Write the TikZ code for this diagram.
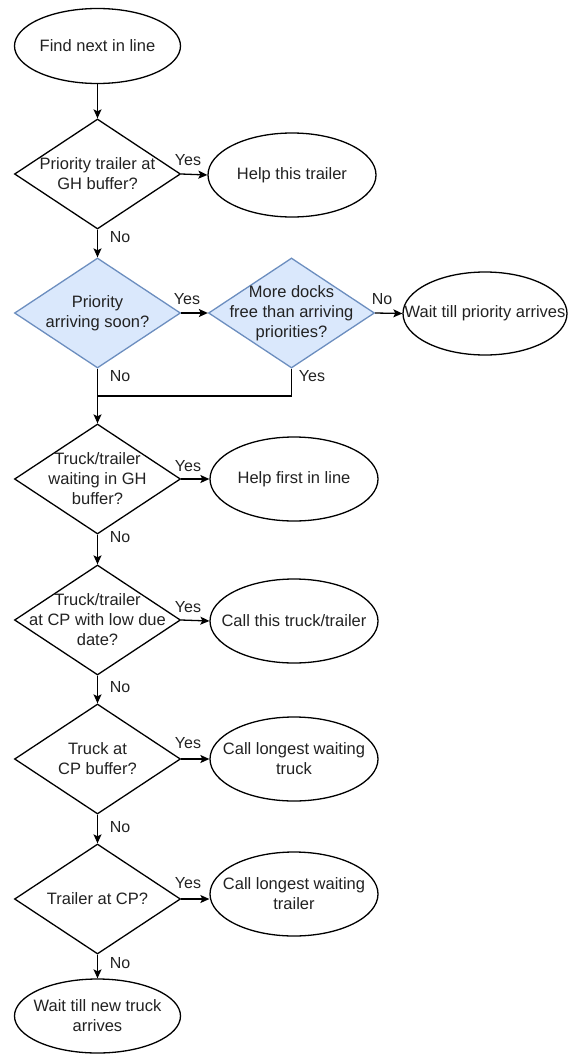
\documentclass[tikz,border=0pt]{standalone}
\usepackage{fontspec}
\setmainfont{Liberation Sans}
\usetikzlibrary{shapes.geometric,arrows.meta}
\definecolor{prioFill}{HTML}{DAE8FC}
\definecolor{prioLine}{HTML}{6C8EBF}
\definecolor{ink}{HTML}{222222}

\begin{document}
\begin{tikzpicture}[x=1pt,y=-1pt,
  txt/.style={font=\fontsize{16.5}{20}\selectfont, text=ink, align=center, inner sep=0pt},
  say/.style={label={[txt]center:#1}},
  decision/.style={diamond, draw, line width=1.3pt, fill=white,
    minimum width=166pt, minimum height=110pt, inner sep=0pt},
  prio/.style={decision, fill=prioFill, draw=prioLine},
  term/.style={ellipse, draw, line width=1.3pt, fill=white,
    minimum width=166pt, minimum height=75pt, inner sep=0pt},
  act/.style={term, minimum width=168pt, minimum height=84pt},
  lbl/.style={font=\fontsize{16}{19}\selectfont, text=ink, inner sep=0pt},
  arr/.style={-{Stealth[length=9pt,width=8pt,inset=2pt]}, line width=1.3pt},
  wire/.style={line width=1.3pt}]

\useasboundingbox (0,0) rectangle (568,1057);

% main column of decisions
\node[term, say={Find next in line}] (start) at (97.5,46) {};
\node[decision, say={Priority trailer at\\GH buffer?}] (d1) at (97.5,174) {};
\node[prio, say={Priority\\arriving soon?}] (d2) at (97.5,313) {};
\node[prio, say={More docks\\free than arriving\\priorities?}] (d3) at (291.5,313) {};
\node[decision, say={Truck/trailer\\waiting in GH\\buffer?}] (d4) at (97.5,479) {};
\node[decision, say={Truck/trailer\\at CP with low due\\date?}] (d5) at (97.5,620) {};
\node[decision, say={Truck at\\CP buffer?}] (d6) at (97.5,759) {};
\node[decision, say={Trailer at CP?}] (d7) at (97.5,899) {};
\node[term, minimum height=74pt, say={Wait till new truck\\arrives}] (stop) at (97.5,1016) {};

% outcomes on the right
\node[act, say={Help this trailer}] (e1) at (292,175) {};
\node[act, minimum width=164pt, minimum height=83pt, say={Wait till priority arrives}] (e3) at (485,313.5) {};
\node[act, say={Help first in line}] (e4) at (294,479) {};
\node[act, say={Call this truck/trailer}] (e5) at (294,621) {};
\node[act, say={Call longest waiting\\truck}] (e6) at (294,759) {};
\node[act, say={Call longest waiting\\trailer}] (e7) at (294,894) {};

\coordinate (merge) at (97.5,396);

% connectors
\draw[arr] (start) -- (d1);
\draw[arr] (d1.east) -- (e1.west);
\draw[arr] (d1.south) -- (d2.north);
\draw[arr] (d2.east) -- (d3.west);
\draw[arr] (d3.east) -- (e3.west);
\draw[wire] (d2.south) -- (merge);
\draw[wire] (d3.south) |- (merge);
\draw[arr] (merge) -- (d4.north);
\draw[arr] (d4.east) -- (e4.west);
\draw[arr] (d4.south) -- (d5.north);
\draw[arr] (d5.east) -- (e5.west);
\draw[arr] (d5.south) -- (d6.north);
\draw[arr] (d6.east) -- (e6.west);
\draw[arr] (d6.south) -- (d7.north);
\draw[arr] (d7.east) -- (e7.west |- d7.east);
\draw[arr] (d7.south) -- (stop.north);

% branch labels
\node[lbl] (y1) at (188,160) {Yes};
\node[lbl] (n1) at (120,237) {No};
\node[lbl] (y2) at (187,299) {Yes};
\node[lbl] (n3) at (382,299) {No};
\node[lbl] (n2) at (120,376) {No};
\node[lbl] (y3) at (312,376) {Yes};
\node[lbl] (y4) at (188,466) {Yes};
\node[lbl] (n4) at (120,537) {No};
\node[lbl] (y5) at (188,607) {Yes};
\node[lbl] (n5) at (120,687) {No};
\node[lbl] (y6) at (188,743) {Yes};
\node[lbl] (n6) at (120,827) {No};
\node[lbl] (y7) at (188,883) {Yes};
\node[lbl] (n7) at (120,963) {No};
\end{tikzpicture}
\end{document}
